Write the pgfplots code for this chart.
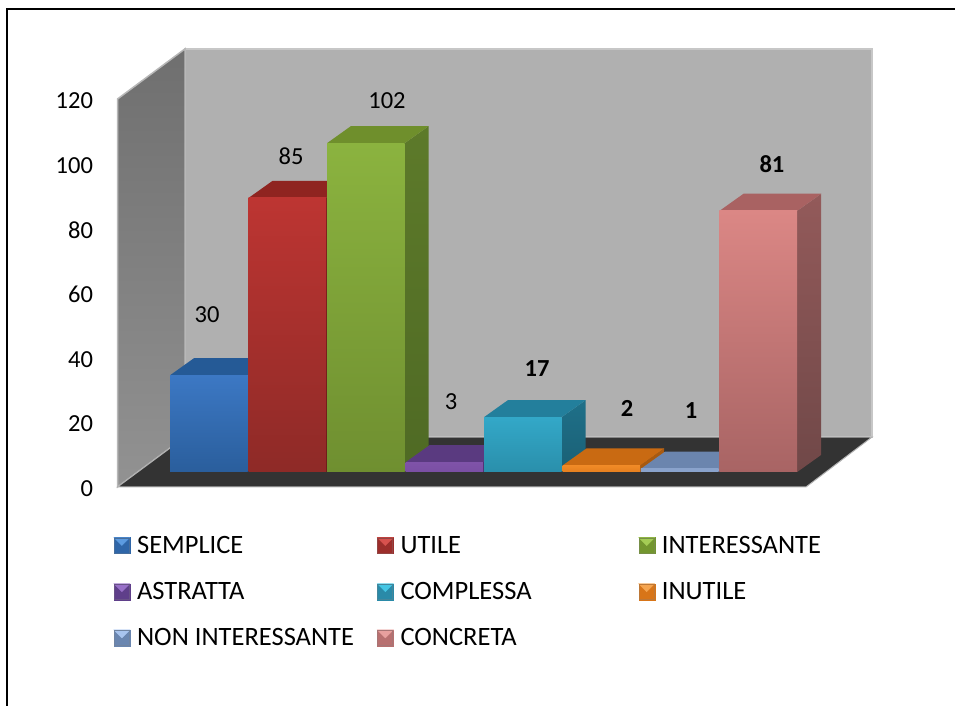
\documentclass[border=0pt]{standalone}
\usepackage{pgfplots}
\pgfplotsset{compat=1.18}
\usepackage{fontspec}
\setmainfont{Carlito}
\definecolor{wallA}{HTML}{6F6F6F}
\definecolor{wallB}{HTML}{929292}
\newcommand{\defc}[8]{%
 \definecolor{c#1ft}{HTML}{#2}\definecolor{c#1fb}{HTML}{#3}\definecolor{c#1t}{HTML}{#4}%
 \definecolor{c#1st}{HTML}{#5}\definecolor{c#1sb}{HTML}{#6}%
 \definecolor{c#1ld}{HTML}{#7}\definecolor{c#1ll}{HTML}{#8}}
\defc{0}{3C78C4}{2A5E9C}{255A96}{255A96}{1F4A7F}{2F66A8}{5C9BE0}
\defc{1}{BD3532}{8E2A27}{8F2420}{7C201D}{6B1B19}{9C2E2B}{D8524E}
\defc{2}{8BB33F}{6F8F30}{6F8F2C}{5D7A2A}{4F6A24}{73962F}{A4CC55}
\defc{3}{7F53A8}{7A4FA3}{5A3A80}{4B3070}{4B3070}{5F3F8A}{9870C8}
\defc{4}{33A8C8}{2A8FAB}{237F9C}{1F7089}{1A6075}{2A8AA8}{44C6E4}
\defc{5}{F08A26}{E57F1F}{C96A12}{A85A10}{A85A10}{D87518}{F5A550}
\defc{6}{8AA3CC}{8AA3CC}{6B85AE}{6B85AE}{6B85AE}{6A86B0}{A8C4EE}
\defc{7}{DB8785}{A86464}{A96262}{935A5A}{704848}{B87070}{E8A09E}
\newcommand{\threedbar}[2]{%
 % #1 index, #2 value
 \pgfmathsetmacro{\xa}{#1}\pgfmathsetmacro{\xb}{#1+0.99}
 \pgfmathsetmacro{\xc}{#1+1.296}\pgfmathsetmacro{\xd}{#1+0.306}
 \pgfmathsetmacro{\yb}{4.64}\pgfmathsetmacro{\yt}{4.64+0.997*#2}
 \pgfmathsetmacro{\ybb}{\yb+5.3}\pgfmathsetmacro{\ytt}{\yt+5.3}
 \addplot[forget plot,draw=none,top color=c#1st,bottom color=c#1sb] coordinates {(\xb,\yb)(\xc,\ybb)(\xc,\ytt)(\xb,\yt)} --cycle;
 \addplot[forget plot,draw=none,fill=c#1t] coordinates {(\xa,\yt)(\xb,\yt)(\xc,\ytt)(\xd,\ytt)} --cycle;
 \addplot[forget plot,draw=none,top color=c#1ft,bottom color=c#1fb] coordinates {(\xa,\yb)(\xb,\yb)(\xb,\yt)(\xa,\yt)} --cycle;
}
\newcommand{\cubelegend}[3]{%
 \addlegendimage{legend image code/.code={%
  \fill[c#1ld] (0pt,-8pt) rectangle (16pt,8pt);
  \fill[c#1ll] (0pt,8pt) -- (16pt,8pt) -- (8pt,0pt) -- cycle;
  \draw[c#1ld!70!gray,line width=1pt] (0.5pt,-7.5pt) rectangle (15.5pt,7.5pt);
 }}
 \addlegendentry{\makebox[#3][l]{\rule[-3pt]{0pt}{20pt}\hspace{5pt}#2}}
}
\begin{document}
\begin{tikzpicture}[x=1pt,y=1pt]
\path[use as bounding box] (0,0) rectangle (955,706);
\draw[line width=2pt,black] (7,0) -- (7,697) -- (955,697);
\begin{axis}[
 at={(117.5pt,219pt)},anchor=south west,
 scale only axis,width=754.5pt,height=388pt,
 xmin=-0.669,xmax=8.943,ymin=0,ymax=120,
 clip=false,
 axis line style={draw=none},
 tick style={draw=none},
 xtick=\empty,
 ytick={0,20,...,120},
 ticklabel style={font=\fontsize{24.5}{28}\selectfont},
 /pgf/number format/assume math mode=true,
 yticklabel style={xshift=-21pt,yshift=-1.5pt},
 legend columns=3,
 legend cell align=left,
 legend style={at={(rel axis cs:0,0)},anchor=north west,xshift=-7pt,yshift=-45pt,draw=none,fill=none,
   font=\fontsize{26.5}{30}\selectfont,row sep=23.5pt},
]
% walls and floor
\addplot[forget plot,draw=black!22,line width=1.5pt,fill=black!31] coordinates {(0.191,135.5)(8.943,135.5)(8.943,15.46)(0.191,15.46)} --cycle;
\addplot[forget plot,draw=black!28,line width=1.5pt,top color=wallA,bottom color=wallB] coordinates {(-0.669,0)(-0.669,120)(0.191,135.5)(0.191,15.46)} --cycle;
\addplot[forget plot,draw=black!30,line width=1pt,fill=black!80] coordinates {(-0.669,0)(8.102,0)(8.943,15.46)(0.191,15.46)} --cycle;
% bars
\threedbar{0}{30}
\threedbar{1}{85}
\threedbar{2}{102}
\threedbar{3}{3}
\threedbar{4}{17}
\threedbar{5}{2}
\threedbar{6}{1}
\threedbar{7}{81}
% data labels
\def\lblfont{\fontsize{24.5}{28}\selectfont}
\newcommand{\dl}[4][]{\node[font=\lblfont#1,anchor=center,inner sep=0pt] at (axis cs:{(#2-170)/78.5},{(487-#3)/3.2333}) {#4};}
\dl{207}{315}{30}
\dl{291}{156}{85}
\dl{387}{101}{102}
\dl{451}{402}{3}
\dl[\bfseries]{537}{369}{17}
\dl[\bfseries]{627}{408}{2}
\dl[\bfseries]{691}{411}{1}
\dl[\bfseries]{772}{164}{81}
% legend
\cubelegend{0}{SEMPLICE}{243pt}
\cubelegend{1}{UTILE}{241pt}
\cubelegend{2}{INTERESSANTE}{180pt}
\cubelegend{3}{ASTRATTA}{243pt}
\cubelegend{4}{COMPLESSA}{241pt}
\cubelegend{5}{INUTILE}{180pt}
\cubelegend{6}{NON INTERESSANTE}{243pt}
\cubelegend{7}{CONCRETA}{241pt}
\end{axis}
\end{tikzpicture}
\end{document}
